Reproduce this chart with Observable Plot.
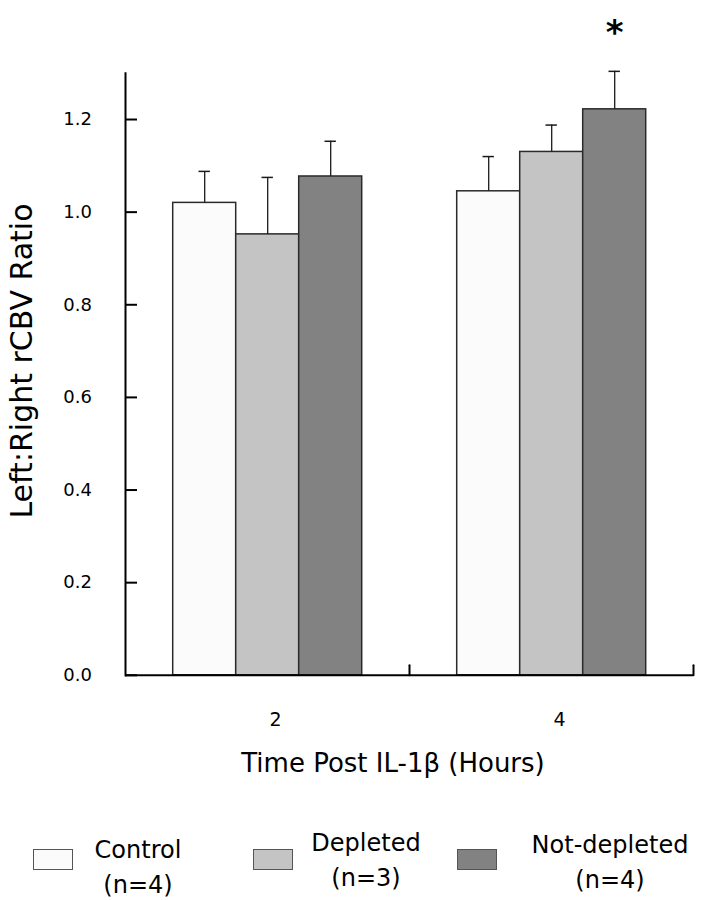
<!DOCTYPE html>
<html><head><meta charset="utf-8">
<script src="https://cdn.jsdelivr.net/npm/d3@7"></script>
<script src="https://cdn.jsdelivr.net/npm/@observablehq/plot@0.6"></script>
<style>
body{margin:0;background:#fff;font-family:"DejaVu Sans",sans-serif;}
#wrap{position:relative;width:701px;height:900px;background:#fff;}
.lab{position:absolute;white-space:nowrap;color:#000;}
.box{position:absolute;width:38px;height:19px;border:1px solid #555;}
</style></head><body><div id="wrap"></div>
<script>
const times = ["2", "4"];
const groups = ["Control", "Depleted", "Not-depleted"];
const groupN = ["(n=4)", "(n=3)", "(n=4)"];
const mean2h = [1.020, 0.952, 1.077];
const sem2h = [0.068, 0.123, 0.076];
const mean4h = [1.045, 1.130, 1.222];
const sem4h = [0.075, 0.058, 0.082];
const sig2h = ["", "", ""];
const sig4h = ["", "", "*"];
const yTicks = [0, 0.2, 0.4, 0.6, 0.8, 1.0, 1.2];
const fills = ["#fbfbfb", "#c4c4c4", "#828282"];
const xLabel = "Time Post IL-1β (Hours)";
const yLabel = "Left:Right rCBV Ratio";

const rows = [];
groups.forEach((g, i) => rows.push({time: "2", group: g, mean: mean2h[i], hi: mean2h[i] + sem2h[i], sig: sig2h[i]}));
groups.forEach((g, i) => rows.push({time: "4", group: g, mean: mean4h[i], hi: mean4h[i] + sem4h[i], sig: sig4h[i]}));

const tickUp = {draw(ctx, l) { ctx.moveTo(0, 0); ctx.lineTo(0, -l); }};

const chart = Plot.plot({
  width: 701, height: 780,
  marginTop: 72.7, marginBottom: 105.2, marginLeft: 124.3, marginRight: 8,
  style: {fontFamily: "DejaVu Sans", fontSize: "18px", background: "white", color: "#000"},
  fx: {domain: times, padding: 0},
  x: {domain: groups, paddingInner: 0, paddingOuter: 0.746, axis: null},
  y: {domain: [0, 1.3]},
  color: {domain: groups, range: fills},
  marks: [
    Plot.barY(rows, {fx: "time", x: "group", y: "mean", fill: "group", stroke: "#2a2a2a", strokeWidth: 1.5}),
    Plot.ruleX(rows, {fx: "time", x: "group", y1: "mean", y2: "hi", stroke: "#1a1a1a", strokeWidth: 1.3}),
    Plot.tickY(rows, {fx: "time", x: "group", y: "hi", stroke: "#1a1a1a", strokeWidth: 1.5, inset: 25.8}),
    Plot.text(rows.filter(d => d.sig), {fx: "time", x: "group", y: "hi", text: "sig", dy: -38, fontSize: 34, fontWeight: "bold", lineAnchor: "middle"}),
    Plot.ruleY([0], {stroke: "#000", strokeWidth: 2}),
    Plot.frame({anchor: "left", facetAnchor: "left", stroke: "#000", strokeWidth: 2}),
    Plot.vector([0], {frameAnchor: "bottom-right", length: 10, rotate: 0, anchor: "start", shape: tickUp, stroke: "#000", strokeWidth: 2}),
    Plot.axisY({ticks: yTicks, tickFormat: d3.format(".1f"), tickSize: -12, tickPadding: 45.6, fontSize: 18, strokeWidth: 2, label: null}),
    Plot.axisFx({anchor: "bottom", tickSize: 0, tickPadding: 37, fontSize: 19, dx: 8, label: null})
  ]
});

const wrap = document.getElementById("wrap");
wrap.appendChild(chart);

function addLabel(text, css) {
  const d = document.createElement("div");
  d.className = "lab";
  d.textContent = text;
  Object.assign(d.style, css);
  wrap.appendChild(d);
  return d;
}
// x axis label
addLabel(xLabel, {left: "193px", width: "400px", textAlign: "center", top: "748px", fontSize: "26px", lineHeight: "30px"});
// y axis label (rotated)
addLabel(yLabel, {left: (21.5 - 200) + "px", width: "400px", textAlign: "center", top: (361 - 15) + "px", fontSize: "30px", lineHeight: "30px", transform: "rotate(-90deg)", transformOrigin: "50% 50%"});

// legend
const boxX = [33, 253, 457];
const textCX = [138, 366, 610];
const textTop = [832.7, 826.2, 827.5];
groups.forEach((g, i) => {
  const b = document.createElement("div");
  b.className = "box";
  Object.assign(b.style, {left: boxX[i] + "px", top: "849px", background: fills[i]});
  wrap.appendChild(b);
  const t = addLabel("", {left: (textCX[i] - 120) + "px", width: "240px", textAlign: "center", top: textTop[i] + "px", fontSize: "24px", lineHeight: "35px"});
  t.innerHTML = g + "<br>" + groupN[i];
});
</script>
</body></html>
